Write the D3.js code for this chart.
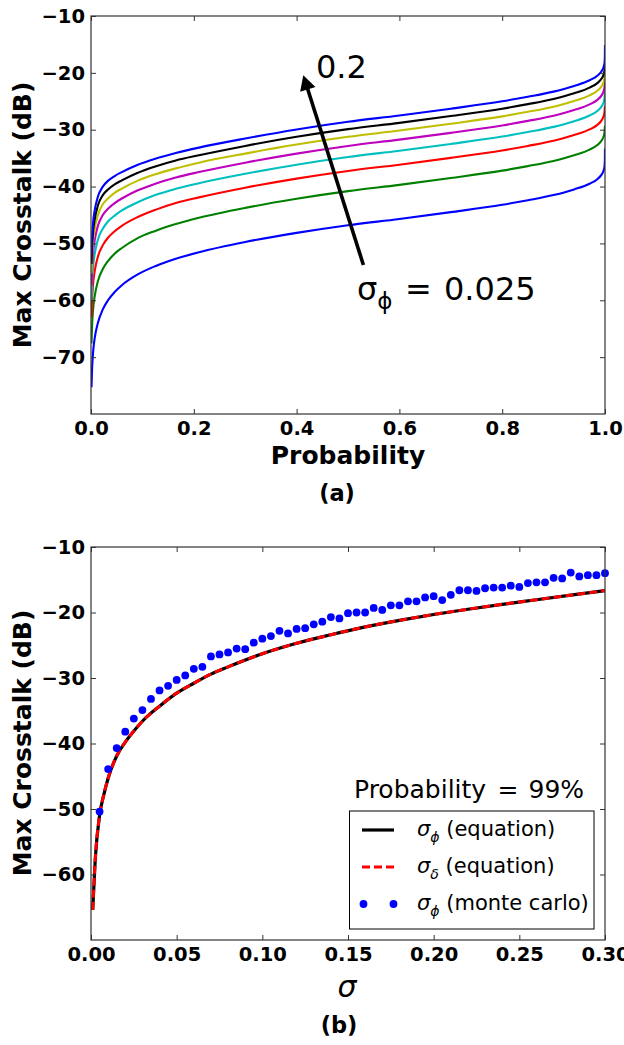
<!DOCTYPE html>
<html>
<head>
<meta charset="utf-8">
<script src="https://cdn.jsdelivr.net/npm/d3@7"></script>
<style>
  body { margin: 0; background: #fff; }
  svg { display: block; }
  text { font-family: "DejaVu Sans", sans-serif; fill: #000; }
</style>
</head>
<body>
<svg id="chart" width="624" height="1045"></svg>
<script>
// ---------- Panel (a): max crosstalk vs probability, one curve per sigma_phi ----------
const probability = [0.001, 0.002, 0.004, 0.007, 0.0135, 0.023, 0.033, 0.046, 0.06, 0.09, 0.125,
  0.165, 0.21, 0.3, 0.4, 0.5, 0.6, 0.7, 0.8, 0.85, 0.9, 0.94, 0.97, 0.985, 0.993, 0.997,
  0.999, 0.9997, 1];

const xtalk025 = [-75.3, -72.3, -69.2, -66.8, -63.95, -61.6, -60.0, -58.55, -57.35, -55.5, -54.0,
  -52.7, -51.55, -49.75, -48.15, -46.8, -45.7, -44.5, -43.2, -42.4, -41.5, -40.5, -39.5, -38.7, -37.95, -37.25,
  -36.5, -35.6, -33.3];
const xtalk050 = [-67.6, -64.7, -61.7, -59.4, -56.6, -54.5, -53.1, -51.8, -50.8, -49.1, -47.8,
  -46.6, -45.5, -43.75, -42.15, -40.8, -39.7, -38.5, -37.2, -36.4, -35.5, -34.5, -33.5, -32.7, -31.95, -31.25,
  -30.5, -29.6, -29.3];
const xtalk075 = [-63.0, -60.2, -57.2, -55.0, -52.3, -50.3, -49.0, -47.85, -46.9, -45.4, -44.1,
  -42.9, -41.9, -40.2, -38.6, -37.25, -36.15, -34.95, -33.65, -32.85, -31.95, -30.95, -29.95, -29.15, -28.4, -27.7,
  -26.95, -26.05, -25.8];
const xtalk100 = [-59.9, -57.1, -54.2, -52.0, -49.3, -47.4, -46.15, -45.1, -44.2, -42.8, -41.5,
  -40.4, -39.4, -37.75, -36.15, -34.8, -33.7, -32.5, -31.2, -30.4, -29.5, -28.5, -27.5, -26.7, -25.95, -25.25,
  -24.5, -23.6, -23.4];
const xtalk125 = [-57.4, -54.6, -51.7, -49.55, -46.9, -45.0, -43.9, -42.9, -42.1, -40.7, -39.5,
  -38.4, -37.45, -35.8, -34.2, -32.85, -31.75, -30.55, -29.25, -28.45, -27.55, -26.55, -25.55, -24.75, -24.0, -23.3,
  -22.55, -21.65, -21.5];
const xtalk150 = [-55.3, -52.6, -49.7, -47.6, -45.0, -43.1, -42.1, -41.1, -40.35, -39.0, -37.85,
  -36.8, -35.8, -34.2, -32.6, -31.25, -30.15, -28.95, -27.65, -26.85, -25.95, -24.95, -23.95, -23.15, -22.4, -21.7,
  -20.95, -20.05, -19.9];
const xtalk175 = [-53.6, -50.9, -48.0, -45.9, -43.3, -41.5, -40.5, -39.6, -38.9, -37.6, -36.45,
  -35.4, -34.5, -32.85, -31.25, -29.9, -28.8, -27.6, -26.3, -25.5, -24.6, -23.6, -22.6, -21.8, -21.05, -20.35,
  -19.6, -18.7, -18.5];
const xtalk200 = [-51.9, -49.2, -46.4, -44.3, -41.75, -40.0, -39.0, -38.15, -37.45, -36.2, -35.1,
  -34.1, -33.15, -31.55, -29.95, -28.6, -27.5, -26.3, -25.0, -24.2, -23.3, -22.3, -21.3, -20.5, -19.75, -19.05,
  -18.3, -17.4, -15.1];

const sigmaLevels = ["0.025", "0.05", "0.075", "0.1", "0.125", "0.15", "0.175", "0.2"];
const curveSeries = [xtalk025, xtalk050, xtalk075, xtalk100, xtalk125, xtalk150, xtalk175, xtalk200];
const curveColors = ["#0000ff", "#008000", "#ff0000", "#00bfbf", "#bf00bf", "#bfbf00", "#000000", "#0000ff"];

const topXTicks = [0, 0.2, 0.4, 0.6, 0.8, 1.0];
const topYTicks = [-70, -60, -50, -40, -30, -20, -10];

// ---------- Panel (b): max crosstalk at 99% vs sigma ----------
const sigmaEq = [0.001, 0.0025, 0.005, 0.0075, 0.01, 0.015, 0.02, 0.025, 0.03, 0.04, 0.05, 0.06, 0.07,
  0.08, 0.1, 0.12, 0.14, 0.16, 0.18, 0.2, 0.22, 0.24, 0.26, 0.28, 0.3];
const xtalkPhiEq = [-65.4, -57.6, -51.0, -47.8, -45.3, -41.9, -39.8, -38.1, -36.6, -34.3, -32.3, -30.8, -29.4,
  -28.3, -26.3, -24.7, -23.4, -22.2, -21.2, -20.3, -19.5, -18.75, -18.05, -17.35, -16.65];
const xtalkDeltaEq = [-65.4, -57.6, -51.0, -47.8, -45.3, -41.9, -39.8, -38.1, -36.6, -34.3, -32.3, -30.8, -29.4,
  -28.3, -26.3, -24.7, -23.4, -22.2, -21.2, -20.3, -19.5, -18.75, -18.05, -17.35, -16.65];

const sigmaMC = [0.005, 0.01, 0.015, 0.02, 0.025, 0.03, 0.035, 0.04, 0.045, 0.05,
  0.055, 0.06, 0.065, 0.07, 0.075, 0.08, 0.085, 0.09, 0.095, 0.1,
  0.105, 0.11, 0.115, 0.12, 0.125, 0.13, 0.135, 0.14, 0.145, 0.15,
  0.155, 0.16, 0.165, 0.17, 0.175, 0.18, 0.185, 0.19, 0.195, 0.2,
  0.205, 0.21, 0.215, 0.22, 0.225, 0.23, 0.235, 0.24, 0.245, 0.25,
  0.255, 0.26, 0.265, 0.27, 0.275, 0.28, 0.285, 0.29, 0.295, 0.3];
const xtalkPhiMC = [-50.4, -43.9, -40.7, -38.2, -36.2, -34.9, -33.2, -31.9, -31.2, -30.3,
  -29.6, -28.6, -28.3, -26.7, -26.4, -26.1, -25.5, -25.6, -24.6, -24.0,
  -23.6, -22.8, -23.2, -22.5, -22.4, -21.8, -21.4, -20.7, -20.9, -20.1,
  -20.0, -20.0, -19.3, -19.6, -18.9, -18.9, -18.3, -18.3, -17.7, -17.5,
  -18.1, -17.3, -16.6, -16.6, -16.7, -16.3, -16.2, -16.2, -15.9, -16.1,
  -15.5, -15.4, -15.4, -14.7, -14.8, -13.9, -14.5, -14.3, -14.3, -14.0];

const botXTicks = [0, 0.05, 0.1, 0.15, 0.2, 0.25, 0.3];
const botYTicks = [-60, -50, -40, -30, -20, -10];

// ---------- layout ----------
const svg = d3.select("#chart");
const tickFont = "19.5px";
const spine = "#333";

const xA = d3.scaleLinear().domain([0, 1]).range([91, 605]);
const yA = d3.scaleLinear().domain([-80, -10]).range([414, 16]);
const xB = d3.scaleLinear().domain([0, 0.3]).range([91, 605]);
const yB = d3.scaleLinear().domain([-70, -10]).range([940, 547]);

function drawAxes(x, y, xTicks, yTicks, xFmt, yFmt) {
  const [x0, x1] = x.range();
  const [y0, y1] = y.range();
  const g = svg.append("g");
  const styleAxis = sel => {
    sel.select(".domain").remove();
    sel.selectAll(".tick line").attr("stroke", spine).attr("stroke-width", 1);
    sel.selectAll(".tick text").style("font-size", tickFont).style("font-weight", "bold")
      .style("font-family", "'DejaVu Sans', sans-serif").attr("fill", "#000");
  };
  g.append("g").attr("transform", `translate(0,${y0})`)
    .call(d3.axisBottom(x).tickValues(xTicks).tickFormat(xFmt).tickSizeInner(-5).tickSizeOuter(0).tickPadding(7))
    .call(styleAxis);
  g.append("g").attr("transform", `translate(0,${y1})`)
    .call(d3.axisTop(x).tickValues(xTicks).tickFormat("").tickSizeInner(-5).tickSizeOuter(0))
    .call(styleAxis);
  g.append("g").attr("transform", `translate(${x0},0)`)
    .call(d3.axisLeft(y).tickValues(yTicks).tickFormat(yFmt).tickSizeInner(-5).tickSizeOuter(0).tickPadding(6))
    .call(styleAxis);
  g.append("g").attr("transform", `translate(${x1},0)`)
    .call(d3.axisRight(y).tickValues(yTicks).tickFormat("").tickSizeInner(-5).tickSizeOuter(0))
    .call(styleAxis);
  svg.append("rect").attr("x", x0).attr("y", y1).attr("width", x1 - x0).attr("height", y0 - y1)
    .attr("fill", "none").attr("stroke", spine).attr("stroke-width", 1.2);
}

function yLabel(cy) {
  svg.append("text").attr("transform", `translate(31,${cy}) rotate(-90)`)
    .attr("text-anchor", "middle").style("font-size", "25px").style("font-weight", "bold")
    .text("Max Crosstalk (dB)");
}

// ---------- panel (a) ----------
svg.append("clipPath").attr("id", "clipA").append("rect")
  .attr("x", 91).attr("y", 16).attr("width", 514).attr("height", 398);

const lineA = d3.line().x(d => xA(d[0])).y(d => yA(d[1])).curve(d3.curveMonotoneX);
const gA = svg.append("g").attr("clip-path", "url(#clipA)");
curveSeries.forEach((vals, i) => {
  gA.append("path").datum(probability.map((p, j) => [p, vals[j]]))
    .attr("d", lineA).attr("fill", "none").attr("stroke", curveColors[i]).attr("stroke-width", 2.1)
    .attr("stroke-linejoin", "round")
    .attr("class", "sigma-" + sigmaLevels[i]);
});

drawAxes(xA, yA, topXTicks, topYTicks, d3.format(".1f"), d3.format("d"));
yLabel(215);
svg.append("text").attr("x", 348).attr("y", 464).attr("text-anchor", "middle")
  .style("font-size", "25px").style("font-weight", "bold").text("Probability");
svg.append("text").attr("x", 337).attr("y", 501).attr("text-anchor", "middle")
  .style("font-size", "22.5px").style("font-weight", "bold").text("(a)");

// arrow from the smallest to the largest sigma
const arrowTail = [0.530, -53.8];
const arrowTip = [0.413, -20.4];
{
  const tx = xA(arrowTail[0]), ty = yA(arrowTail[1]);
  const hx = xA(arrowTip[0]), hy = yA(arrowTip[1]);
  const len = Math.hypot(hx - tx, hy - ty);
  const ux = (hx - tx) / len, uy = (hy - ty) / len;
  const headLen = 15, headHalf = 8;
  const bx = hx - ux * headLen, by = hy - uy * headLen;
  svg.append("line").attr("x1", tx).attr("y1", ty).attr("x2", bx + ux * 2).attr("y2", by + uy * 2)
    .attr("stroke", "#000").attr("stroke-width", 3.6);
  svg.append("path")
    .attr("d", `M${hx},${hy}L${bx - uy * headHalf},${by + ux * headHalf}L${bx + uy * headHalf},${by - ux * headHalf}Z`)
    .attr("fill", "#000");
}
svg.append("text").attr("x", 316).attr("y", 78).style("font-size", "32px").text(sigmaLevels[7]);
{
  const t = svg.append("text").attr("y", 300).style("font-size", "32px");
  t.append("tspan").attr("x", 357).text("σ");
  t.append("tspan").attr("dy", 9).style("font-size", "23px").text("ϕ");
  t.append("tspan").attr("x", 405).attr("dy", -9).text("=");
  t.append("tspan").attr("x", 444).text(sigmaLevels[0]);
}

// ---------- panel (b) ----------
const lineB = d3.line().x(d => xB(d[0])).y(d => yB(d[1])).curve(d3.curveMonotoneX);
svg.append("path").datum(sigmaEq.map((s, j) => [s, xtalkPhiEq[j]]))
  .attr("d", lineB).attr("fill", "none").attr("stroke", "#000").attr("stroke-width", 3.2);
svg.append("path").datum(sigmaEq.map((s, j) => [s, xtalkDeltaEq[j]]))
  .attr("d", lineB).attr("fill", "none").attr("stroke", "#ff0000").attr("stroke-width", 3)
  .attr("stroke-dasharray", "8,4");
svg.append("g").selectAll("circle").data(sigmaMC.map((s, j) => [s, xtalkPhiMC[j]])).join("circle")
  .attr("cx", d => xB(d[0])).attr("cy", d => yB(d[1])).attr("r", 3.9).attr("fill", "#0000ff");

drawAxes(xB, yB, botXTicks, botYTicks, d3.format(".2f"), d3.format("d"));
yLabel(743);
svg.append("text").attr("x", 347).attr("y", 997).attr("text-anchor", "middle")
  .style("font-size", "30px").style("font-style", "italic").text("σ");
svg.append("text").attr("x", 339).attr("y", 1033).attr("text-anchor", "middle")
  .style("font-size", "22.5px").style("font-weight", "bold").text("(b)");

// probability note and legend
{
  const t = svg.append("text").attr("y", 798).style("font-size", "25px");
  t.append("tspan").attr("x", 354).text("Probability");
  t.append("tspan").attr("x", 497.5).text("=");
  t.append("tspan").attr("x", 528.5).text("99%");
}
svg.append("rect").attr("x", 349.5).attr("y", 811).attr("width", 244.5).attr("height", 118)
  .attr("fill", "#fff").attr("stroke", "#000").attr("stroke-width", 1);

const legendRows = [
  { sub: "ϕ", label: " (equation)", kind: "solid" },
  { sub: "δ", label: " (equation)", kind: "dash" },
  { sub: "ϕ", label: " (monte carlo)", kind: "dots" }
];
legendRows.forEach((r, i) => {
  const cy = 830 + i * 37;
  if (r.kind === "solid") {
    svg.append("line").attr("x1", 362).attr("x2", 394).attr("y1", cy).attr("y2", cy)
      .attr("stroke", "#000").attr("stroke-width", 3.2);
  } else if (r.kind === "dash") {
    svg.append("line").attr("x1", 362).attr("x2", 394).attr("y1", cy).attr("y2", cy)
      .attr("stroke", "#ff0000").attr("stroke-width", 3).attr("stroke-dasharray", "8,4");
  } else {
    [363.5, 393.5].forEach(cx => svg.append("circle").attr("cx", cx).attr("cy", cy).attr("r", 3.9).attr("fill", "#0000ff"));
  }
  const t = svg.append("text").attr("x", 417).attr("y", cy + 6).style("font-size", "21px");
  t.append("tspan").style("font-style", "italic").text("σ");
  t.append("tspan").attr("dy", 6).style("font-size", "14px").style("font-style", "italic").text(r.sub);
  t.append("tspan").attr("dy", -6).text(r.label);
});
</script>
</body>
</html>
